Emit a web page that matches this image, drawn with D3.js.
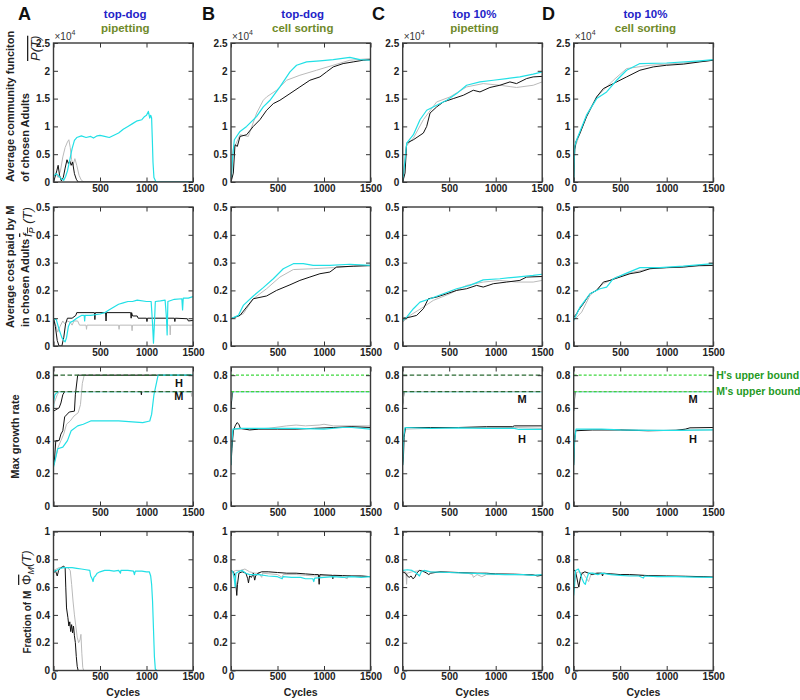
<!DOCTYPE html>
<html><head><meta charset="utf-8">
<script src="https://cdn.jsdelivr.net/npm/d3@7"></script>
<style>body{margin:0;background:#fff}svg{font-family:"Liberation Sans",Arial,sans-serif}</style>
</head><body><svg id="c" width="800" height="700"></svg>
<script>
// ---------------- DATA ----------------
const panelLetters = ["A","B","C","D"];
const selectionTitles = ["top-dog","top-dog","top 10%","top 10%"];
const methodTitles = ["pipetting","cell sorting","pipetting","cell sorting"];
const xTickValues = [0,500,1000,1500];
const xTickLabels = ["0","500","1000","1500"];
const P_ticks = [0,0.5,1,1.5,2,2.5];
const P_tickLabels = ["0","0.5","1","1.5","2","2.5"];
const F_ticks = [0,0.1,0.2,0.3,0.4,0.5];
const F_tickLabels = ["0","0.1","0.2","0.3","0.4","0.5"];
const G_ticks = [0,0.2,0.4,0.6,0.8];
const G_tickLabels = ["0","0.2","0.4","0.6","0.8"];
const Phi_ticks = [0,0.2,0.4,0.6,0.8,1];
const Phi_tickLabels = ["0","0.2","0.4","0.6","0.8","1"];
const upperBounds = [0.8, 0.7];
const upperBoundLabels = ["H's upper bound","M's upper bound"];
// row-3 annotations: [column, label, cycle, value]
const growthAnnotations = [[0,"H",1349,0.73],[0,"M",1349,0.65],[2,"M",1284,0.63],[2,"H",1284,0.386],[3,"M",1284,0.63],[3,"H",1284,0.386]];

// Row 1: average community function P(T), units of 1e4
const P_A_black = [[0,0],[15,0.08],[35,0.2],[50,0.3],[65,0.12],[85,0.02],[105,0.08],[125,0.25],[145,0.4],[160,0.33],[175,0.38],[190,0.3],[205,0.36],[225,0.15],[245,0.05],[265,0],[1500,0]];
const P_A_gray = [[0,0.1],[25,0.15],[50,0.08],[75,0.2],[100,0.45],[125,0.62],[150,0.72],[165,0.76],[180,0.62],[195,0.4],[210,0.3],[230,0.42],[250,0.3],[275,0.12],[300,0.03],[330,0],[1500,0]];
const P_A_cyan = [[0,0.1],[30,0.15],[60,0.1],[90,0.05],[110,0.03],[130,0.1],[150,0.2],[175,0.4],[200,0.6],[225,0.75],[250,0.8],[300,0.83],[350,0.8],[400,0.82],[430,0.79],[470,0.83],[500,0.84],[550,0.82],[600,0.8],[650,0.84],[700,0.88],[750,0.95],[800,1.0],[850,1.05],[900,1.1],[950,1.12],[980,1.18],[1000,1.2],[1020,1.27],[1035,1.15],[1045,1.2],[1055,1.15],[1062,0.8],[1070,0.35],[1080,0.08],[1100,0.01],[1150,0],[1500,0]];
const P_B_black = [[0,0],[25,0.16],[43,0.67],[68,0.64],[97,0.82],[168,0.85],[240,1.0],[311,1.12],[383,1.29],[455,1.41],[526,1.47],[634,1.59],[741,1.71],[848,1.83],[956,1.89],[1027,1.98],[1099,2.07],[1206,2.13],[1314,2.16],[1421,2.19],[1500,2.2]];
const P_B_gray = [[0,0],[25,0.58],[97,0.85],[186,0.82],[276,1.24],[347,1.47],[383,1.53],[490,1.65],[598,1.83],[741,1.92],[920,2.01],[1099,2.1],[1278,2.19],[1500,2.22]];
const P_B_cyan = [[0,0],[18,0.46],[36,0.76],[97,0.91],[168,1.0],[276,1.18],[347,1.35],[419,1.47],[526,1.71],[634,1.98],[705,2.1],[813,2.16],[956,2.18],[1099,2.2],[1278,2.24],[1386,2.2],[1500,2.19]];
const P_C_black = [[0,0],[25,0.16],[43,0.7],[115,0.76],[222,0.88],[258,1.0],[294,1.24],[365,1.35],[437,1.44],[544,1.5],[652,1.56],[759,1.65],[831,1.62],[938,1.7],[1045,1.74],[1153,1.8],[1224,1.77],[1332,1.86],[1403,1.89],[1500,1.9]];
const P_C_gray = [[0,0],[36,0.64],[115,0.79],[222,1.12],[365,1.44],[508,1.53],[687,1.71],[866,1.77],[1045,1.74],[1224,1.7],[1403,1.74],[1500,1.8]];
const P_C_cyan = [[0,0],[25,0.4],[43,0.7],[115,0.85],[186,1.12],[258,1.29],[365,1.38],[473,1.47],[580,1.59],[687,1.74],[831,1.8],[974,1.83],[1117,1.86],[1260,1.89],[1403,1.94],[1500,1.98]];
const P_D_black = [[0,0],[11,0.58],[25,0.73],[68,0.88],[140,1.18],[247,1.53],[319,1.68],[426,1.77],[569,1.89],[712,2.01],[856,2.07],[999,2.1],[1178,2.12],[1357,2.16],[1500,2.19]];
const P_D_gray = [[0,0],[11,0.61],[140,1.21],[247,1.53],[426,1.83],[569,2.04],[820,2.1],[1178,2.14],[1500,2.19]];
const P_D_cyan = [[0,0],[11,0.64],[32,0.76],[140,1.21],[247,1.5],[354,1.62],[462,1.83],[569,2.01],[712,2.13],[999,2.14],[1357,2.18],[1500,2.2]];

// Row 2: average cost fP(T)
const F_A_black = [[0,0.1],[20,0.07],[40,0.02],[60,0],[90,0],[110,0.03],[130,0.08],[150,0.1],[200,0.1],[240,0.11],[250,0.12],[440,0.12],[445,0.095],[450,0.12],[560,0.12],[565,0.09],[570,0.12],[830,0.12],[835,0.1],[840,0.12],[850,0.108],[900,0.108],[910,0.1],[1000,0.1],[1005,0.088],[1010,0.1],[1300,0.1],[1305,0.088],[1310,0.1],[1440,0.098],[1450,0.09],[1500,0.092]];
const F_A_gray = [[0,0.1],[20,0.08],[45,0.05],[70,0.07],[100,0.09],[120,0.08],[150,0.09],[180,0.085],[200,0.075],[220,0.09],[260,0.09],[280,0.075],[350,0.075],[355,0.06],[360,0.075],[700,0.075],[705,0.06],[710,0.075],[840,0.075],[845,0.055],[850,0.075],[1000,0.075],[1250,0.075],[1255,0.04],[1260,0.075],[1500,0.075]];
const F_A_cyan = [[0,0.1],[30,0.095],[60,0.06],[90,0.03],[110,0.02],[125,0.015],[140,0.03],[160,0.07],[180,0.085],[210,0.09],[250,0.1],[300,0.11],[330,0.11],[335,0.09],[340,0.11],[400,0.11],[500,0.115],[550,0.12],[600,0.13],[650,0.14],[700,0.15],[750,0.155],[800,0.16],[850,0.16],[900,0.165],[1000,0.16],[1050,0.16],[1065,0.08],[1075,0.01],[1085,0.08],[1095,0.16],[1150,0.162],[1200,0.165],[1215,0.1],[1222,0.04],[1230,0.16],[1300,0.168],[1380,0.17],[1388,0.13],[1395,0.172],[1450,0.172],[1500,0.178]];
const F_B_black = [[0,0.098],[97,0.11],[168,0.14],[240,0.17],[383,0.18],[490,0.2],[634,0.22],[741,0.236],[848,0.248],[956,0.26],[1063,0.266],[1135,0.284],[1314,0.287],[1500,0.29]];
const F_B_gray = [[0,0.098],[132,0.116],[240,0.17],[383,0.206],[526,0.248],[670,0.275],[884,0.278],[1099,0.282],[1314,0.287],[1500,0.287]];
const F_B_cyan = [[0,0.098],[79,0.11],[132,0.146],[240,0.18],[347,0.21],[455,0.242],[562,0.278],[670,0.296],[777,0.296],[884,0.29],[1063,0.29],[1278,0.294],[1500,0.29]];
const F_C_black = [[0,0.1],[79,0.104],[150,0.11],[222,0.134],[276,0.17],[365,0.176],[473,0.188],[580,0.2],[687,0.206],[795,0.218],[866,0.212],[974,0.224],[1117,0.23],[1260,0.236],[1332,0.248],[1500,0.25]];
const F_C_gray = [[0,0.086],[79,0.11],[222,0.14],[329,0.164],[508,0.188],[687,0.218],[866,0.23],[1045,0.236],[1224,0.23],[1403,0.23],[1500,0.236]];
const F_C_cyan = [[0,0.092],[43,0.104],[115,0.134],[186,0.158],[294,0.17],[437,0.188],[580,0.206],[723,0.218],[866,0.238],[1045,0.242],[1224,0.248],[1403,0.254],[1500,0.258]];
const F_D_black = [[0,0.104],[32,0.116],[50,0.128],[104,0.152],[175,0.188],[247,0.2],[319,0.23],[390,0.236],[498,0.248],[605,0.26],[712,0.266],[820,0.278],[999,0.282],[1178,0.284],[1357,0.29],[1500,0.29]];
const F_D_gray = [[0,0.092],[86,0.122],[175,0.182],[319,0.224],[462,0.248],[641,0.266],[820,0.278],[1178,0.284],[1500,0.29]];
const F_D_cyan = [[0,0.092],[68,0.14],[175,0.188],[283,0.206],[354,0.212],[426,0.242],[569,0.262],[712,0.282],[927,0.282],[1178,0.287],[1500,0.296]];

// Row 3: max growth rate (H and M)
const GH_A_black = [[0,0.25],[10,0.28],[25,0.4],[60,0.4],[80,0.44],[100,0.46],[120,0.545],[170,0.575],[225,0.58],[235,0.68],[260,0.8],[1500,0.8]];
const GH_A_gray = [[0,0.25],[20,0.29],[50,0.36],[80,0.4],[110,0.44],[140,0.5],[180,0.52],[220,0.55],[265,0.57],[290,0.62],[310,0.75],[330,0.8],[1500,0.8]];
const GH_A_cyan = [[0,0.24],[10,0.26],[45,0.35],[100,0.36],[150,0.4],[190,0.46],[260,0.49],[320,0.5],[400,0.52],[700,0.52],[960,0.51],[1035,0.52],[1055,0.56],[1080,0.68],[1110,0.76],[1125,0.8],[1500,0.8]];
const GM_A_black = [[0,0.58],[60,0.6],[80,0.63],[100,0.68],[120,0.7],[940,0.7],[945,0.68],[950,0.7],[1500,0.7]];
const GM_A_gray = [[0,0.62],[20,0.65],[40,0.68],[60,0.7],[1480,0.7],[1485,0.67],[1490,0.7],[1500,0.7]];
const GM_A_cyan = [[0,0.6],[5,0.65],[15,0.68],[30,0.69],[60,0.7],[1500,0.7]];
const GH_B_black = [[0,0.25],[10,0.35],[25,0.46],[45,0.49],[65,0.51],[85,0.5],[100,0.475],[200,0.465],[300,0.47],[500,0.47],[700,0.47],[900,0.475],[1100,0.48],[1300,0.485],[1500,0.48]];
const GH_B_gray = [[0,0.26],[12,0.4],[30,0.47],[200,0.47],[400,0.475],[600,0.49],[700,0.495],[800,0.49],[950,0.495],[1000,0.5],[1100,0.49],[1300,0.49],[1500,0.49]];
const GH_B_cyan = [[0,0.25],[8,0.38],[20,0.47],[100,0.475],[400,0.475],[700,0.475],[1000,0.47],[1200,0.48],[1300,0.48],[1500,0.47]];
const GM_B_black = [[0,0.6],[15,0.7],[1500,0.7]];
const GM_B_gray = [[0,0.64],[12,0.7],[1500,0.7]];
const GM_B_cyan = [[0,0.6],[10,0.68],[25,0.7],[1500,0.7]];
const GH_C_black = [[0,0.25],[8,0.3],[15,0.42],[30,0.48],[300,0.48],[600,0.48],[900,0.485],[1180,0.485],[1200,0.49],[1500,0.49]];
const GH_C_gray = [[0,0.27],[10,0.4],[25,0.47],[300,0.475],[600,0.48],[900,0.478],[1200,0.48],[1500,0.475]];
const GH_C_cyan = [[0,0.25],[12,0.43],[25,0.48],[300,0.475],[600,0.478],[900,0.475],[1200,0.475],[1250,0.468],[1500,0.468]];
const GM_C_black = [[0,0.62],[15,0.7],[1500,0.7]];
const GM_C_gray = [[0,0.6],[12,0.69],[20,0.7],[1500,0.7]];
const GM_C_cyan = [[0,0.63],[10,0.7],[1500,0.7]];
const GH_D_black = [[0,0.25],[8,0.38],[20,0.46],[200,0.465],[500,0.465],[800,0.46],[1100,0.463],[1200,0.47],[1250,0.478],[1500,0.48]];
const GH_D_gray = [[0,0.26],[10,0.42],[25,0.465],[300,0.467],[700,0.465],[1000,0.462],[1300,0.465],[1500,0.465]];
const GH_D_cyan = [[0,0.25],[10,0.4],[25,0.47],[100,0.47],[300,0.47],[500,0.465],[800,0.462],[1100,0.463],[1500,0.465]];
const GM_D_black = [[0,0.58],[15,0.7],[1500,0.7]];
const GM_D_gray = [[0,0.6],[12,0.7],[1500,0.7]];
const GM_D_cyan = [[0,0.62],[10,0.7],[1500,0.7]];

// Row 4: fraction of M
const PhiM_A_black = [[0,0.7],[20,0.72],[40,0.68],[55,0.72],[80,0.74],[110,0.75],[125,0.74],[132,0.6],[140,0.45],[155,0.38],[165,0.32],[175,0.35],[185,0.28],[195,0.33],[205,0.27],[215,0.32],[225,0.25],[235,0.2],[245,0.1],[255,0.03],[265,0],[1500,0]];
const PhiM_A_gray = [[0,0.72],[30,0.73],[60,0.74],[100,0.74],[150,0.74],[180,0.72],[195,0.62],[210,0.5],[225,0.4],[240,0.32],[255,0.24],[270,0.2],[285,0.22],[295,0.26],[305,0.12],[315,0.02],[325,0],[1500,0]];
const PhiM_A_cyan = [[0,0.71],[30,0.72],[60,0.73],[100,0.74],[150,0.74],[200,0.74],[250,0.735],[300,0.73],[350,0.725],[390,0.72],[400,0.68],[415,0.66],[425,0.64],[435,0.67],[450,0.68],[470,0.7],[500,0.71],[550,0.72],[600,0.72],[650,0.715],[700,0.72],[720,0.7],[725,0.72],[800,0.72],[860,0.715],[870,0.69],[880,0.715],[950,0.715],[1000,0.71],[1030,0.71],[1045,0.68],[1055,0.62],[1065,0.5],[1075,0.3],[1085,0.1],[1095,0.01],[1110,0],[1500,0]];
const PhiM_B_black = [[0,0.72],[25,0.71],[45,0.68],[55,0.6],[62,0.54],[70,0.62],[85,0.7],[120,0.71],[160,0.7],[180,0.66],[188,0.63],[200,0.68],[220,0.67],[240,0.7],[255,0.65],[265,0.68],[290,0.7],[330,0.71],[400,0.71],[500,0.705],[600,0.7],[700,0.7],[800,0.695],[900,0.69],[940,0.69],[948,0.62],[955,0.69],[1000,0.688],[1090,0.685],[1095,0.66],[1100,0.685],[1200,0.683],[1300,0.68],[1400,0.68],[1500,0.675]];
const PhiM_B_gray = [[0,0.7],[50,0.72],[100,0.72],[150,0.73],[200,0.71],[260,0.7],[300,0.7],[330,0.67],[340,0.7],[500,0.69],[550,0.67],[560,0.69],[700,0.69],[800,0.685],[900,0.68],[1000,0.682],[1100,0.68],[1200,0.675],[1250,0.66],[1260,0.68],[1400,0.68],[1500,0.675]];
const PhiM_B_cyan = [[0,0.72],[20,0.71],[35,0.66],[45,0.6],[52,0.7],[80,0.71],[120,0.72],[160,0.7],[200,0.69],[300,0.69],[400,0.68],[500,0.675],[550,0.66],[560,0.675],[650,0.67],[750,0.67],[800,0.66],[880,0.66],[890,0.64],[900,0.665],[1000,0.67],[1100,0.675],[1200,0.67],[1300,0.675],[1400,0.67],[1500,0.675]];
const PhiM_C_black = [[0,0.71],[30,0.7],[50,0.68],[70,0.67],[90,0.68],[110,0.66],[130,0.67],[150,0.7],[180,0.72],[230,0.71],[260,0.7],[280,0.69],[300,0.7],[400,0.71],[600,0.705],[800,0.7],[900,0.7],[1000,0.695],[1200,0.693],[1400,0.688],[1450,0.68],[1500,0.685]];
const PhiM_C_gray = [[0,0.7],[20,0.71],[35,0.71],[42,0.62],[48,0.7],[100,0.71],[200,0.72],[300,0.71],[500,0.705],[700,0.7],[750,0.69],[760,0.67],[780,0.68],[800,0.69],[850,0.675],[900,0.69],[1000,0.69],[1200,0.69],[1400,0.685],[1500,0.688]];
const PhiM_C_cyan = [[0,0.72],[50,0.725],[100,0.72],[150,0.7],[180,0.68],[200,0.71],[230,0.72],[300,0.71],[500,0.705],[700,0.7],[900,0.695],[1100,0.69],[1300,0.69],[1400,0.685],[1500,0.69]];
const PhiM_D_black = [[0,0.72],[15,0.72],[30,0.68],[45,0.63],[55,0.6],[70,0.66],[90,0.7],[120,0.71],[160,0.7],[200,0.69],[250,0.7],[300,0.7],[310,0.68],[320,0.7],[400,0.695],[500,0.69],[600,0.69],[800,0.683],[1000,0.68],[1200,0.678],[1400,0.675],[1500,0.672]];
const PhiM_D_gray = [[0,0.7],[10,0.64],[20,0.7],[50,0.71],[100,0.7],[140,0.66],[160,0.64],[180,0.68],[200,0.7],[300,0.7],[500,0.69],[700,0.685],[900,0.68],[1100,0.678],[1300,0.675],[1500,0.672]];
const PhiM_D_cyan = [[0,0.54],[8,0.6],[20,0.72],[50,0.73],[70,0.7],[90,0.66],[110,0.63],[125,0.62],[140,0.66],[160,0.7],[200,0.7],[260,0.69],[300,0.7],[400,0.69],[500,0.685],[600,0.68],[700,0.68],[750,0.665],[760,0.68],[900,0.675],[1100,0.675],[1300,0.672],[1500,0.67]];

// ---------------- LAYOUT / STYLE ----------------
const colX = [53.5, 231, 402.7, 573.7];
const rowY = [43, 207, 367, 531.5];
const W = 139.5, H = 139;
const GRAY = "#bababa", BLACK = "#111111", CYAN = "#22e0e6";
const rows = [
  {domain:[0,2.5], ticks:P_ticks, labels:P_tickLabels, colors:[GRAY,BLACK,CYAN],
   series:[[P_A_gray,P_A_black,P_A_cyan],[P_B_gray,P_B_black,P_B_cyan],[P_C_gray,P_C_black,P_C_cyan],[P_D_gray,P_D_black,P_D_cyan]]},
  {domain:[0,0.5], ticks:F_ticks, labels:F_tickLabels, colors:[GRAY,BLACK,CYAN],
   series:[[F_A_gray,F_A_black,F_A_cyan],[F_B_gray,F_B_black,F_B_cyan],[F_C_gray,F_C_black,F_C_cyan],[F_D_gray,F_D_black,F_D_cyan]]},
  {domain:[0,0.85], ticks:G_ticks, labels:G_tickLabels, colors:[CYAN,BLACK,GRAY,GRAY,BLACK,CYAN],
   series:[
     [GM_A_cyan,GM_A_black,GM_A_gray,GH_A_gray,GH_A_black,GH_A_cyan],
     [GM_B_cyan,GM_B_black,GM_B_gray,GH_B_gray,GH_B_black,GH_B_cyan],
     [GM_C_cyan,GM_C_black,GM_C_gray,GH_C_gray,GH_C_black,GH_C_cyan],
     [GM_D_cyan,GM_D_black,GM_D_gray,GH_D_gray,GH_D_black,GH_D_cyan]]},
  {domain:[0,1], ticks:Phi_ticks, labels:Phi_tickLabels, colors:[GRAY,BLACK,CYAN],
   series:[[PhiM_A_gray,PhiM_A_black,PhiM_A_cyan],[PhiM_B_gray,PhiM_B_black,PhiM_B_cyan],[PhiM_C_gray,PhiM_C_black,PhiM_C_cyan],[PhiM_D_gray,PhiM_D_black,PhiM_D_cyan]]}
];
const showXZero = [[false,false,false,true],[false,false,false,false],[false,false,false,false],[true,true,true,true]];
const boundColors = ["#2b6a33","#3ed83e","#2b6a33","#3ed83e"];
const boundDash = ["4.5,2.5","3,2","4.5,2.5","3,2"];

const svg = d3.select("#c");
const x = d3.scaleLinear().domain([0,1500]).range([0,W]);
const TS = 4.5;
const axisStyle = g => {
  g.select(".domain").remove();
  g.selectAll(".tick line").attr("stroke","#333").attr("stroke-width",1);
  g.selectAll(".tick text").attr("fill","#222").attr("font-size","10px").attr("font-weight","bold")
    .attr("font-family","'Liberation Sans',Arial,sans-serif");
};

rows.forEach((row, ri) => {
  const y = d3.scaleLinear().domain(row.domain).range([H,0]);
  panelLetters.forEach((L, ci) => {
    const g = svg.append("g").attr("transform", `translate(${colX[ci]},${rowY[ri]})`);
    const cid = `clip${ri}${ci}`;
    g.append("clipPath").attr("id", cid).append("rect").attr("width", W).attr("height", H);
    const lg = g.append("g").attr("clip-path", `url(#${cid})`);
    const line = d3.line().x(d => x(d[0])).y(d => y(d[1]));
    row.series[ci].forEach((s, si) => {
      const col = row.colors[si];
      lg.append("path").datum(s).attr("d", line).attr("fill","none")
        .attr("stroke", col).attr("stroke-width", col === CYAN ? 1.2 : 1)
        .attr("stroke-linejoin","round");
    });
    if (ri === 2) {
      upperBounds.forEach(v => {
        lg.append("path").datum([[0,v],[1500,v]]).attr("d", line).attr("fill","none")
          .attr("stroke", boundColors[ci]).attr("stroke-width", 1.3).attr("stroke-dasharray", boundDash[ci]);
      });
      growthAnnotations.filter(a => a[0] === ci).forEach(a => {
        g.append("text").attr("x", x(a[2])).attr("y", y(a[3])).attr("text-anchor","middle")
          .attr("font-size","11px").attr("font-weight","bold").attr("fill","#111").text(a[1]);
      });
      if (ci === 3) {
        upperBounds.forEach((v, k) => {
          g.append("text").attr("x", W + 3).attr("y", y(v)).attr("dy","0.35em")
            .attr("font-size","10.5px").attr("font-weight","bold").attr("fill","#1f9a1f").text(upperBoundLabels[k]);
        });
      }
    }
    // axes
    g.append("g").attr("transform", `translate(0,${H})`)
      .call(d3.axisBottom(x).tickValues(xTickValues).tickSize(-TS).tickPadding(2.5)
        .tickFormat((d,i) => (i === 0 && !showXZero[ri][ci]) ? "" : xTickLabels[i])).call(axisStyle);
    g.append("g").call(d3.axisTop(x).tickValues(xTickValues).tickSize(-TS).tickFormat("")).call(axisStyle);
    g.append("g").call(d3.axisLeft(y).tickValues(row.ticks).tickSize(-TS).tickPadding(3.5)
        .tickFormat((d,i) => row.labels[i])).call(axisStyle);
    g.append("g").attr("transform", `translate(${W},0)`)
      .call(d3.axisRight(y).tickValues(row.ticks).tickSize(-TS).tickFormat("")).call(axisStyle);
    g.append("rect").attr("width", W).attr("height", H).attr("fill","none")
      .attr("stroke","#3a3a3a").attr("stroke-width",1.4);
    if (ri === 0) {
      const t = g.append("text").attr("x", 1).attr("y", -3).attr("font-size","10px").attr("fill","#333");
      t.append("tspan").text("×10");
      t.append("tspan").attr("dy", -5).attr("font-size","7px").text("4");
    }
    if (ri === 3) {
      g.append("text").attr("x", W/2).attr("y", H + 25).attr("text-anchor","middle")
        .attr("font-size","10.5px").attr("font-weight","bold").attr("fill","#222").text("Cycles");
    }
  });
});

// column headings
panelLetters.forEach((L, ci) => {
  const cx = colX[ci] + W/2 + 2;
  svg.append("text").attr("x", cx).attr("y", 18).attr("text-anchor","middle")
    .attr("font-size","11.5px").attr("font-weight","bold").attr("fill","#2323c8").text(selectionTitles[ci]);
  svg.append("text").attr("x", cx).attr("y", 32).attr("text-anchor","middle")
    .attr("font-size","11.5px").attr("font-weight","bold").attr("fill","#6f8a2a").text(methodTitles[ci]);
});
const letterX = [18, 202, 372, 542];
panelLetters.forEach((L, ci) => {
  svg.append("text").attr("x", letterX[ci]).attr("y", 20).attr("font-size","18px")
    .attr("font-weight","bold").attr("fill","#111").text(L);
});

// y-axis titles
function rot(x0, y0) { return svg.append("text").attr("transform", `translate(${x0},${y0}) rotate(-90)`).attr("fill","#222"); }
rot(14, 182).attr("font-size","11px").attr("font-weight","bold").text("Average community funciton");
rot(29, 182).attr("font-size","11px").attr("font-weight","bold").text("of chosen Adults");
rot(40, 61).attr("font-size","13px").attr("font-style","italic").style("text-decoration","overline").text("P(T)");
rot(14, 328).attr("font-size","11px").attr("font-weight","bold").text("Average cost paid by M");
rot(29, 327).attr("font-size","11px").attr("font-weight","bold").text("in chosen Adults");
(() => {
  const t = rot(32, 237).attr("font-size","13px").attr("font-style","italic");
  t.append("tspan").style("text-decoration","overline").text("f");
  t.append("tspan").attr("font-size","9px").attr("dy", 3).style("text-decoration","overline").text("P");
  t.append("tspan").attr("dy", -3).text(" (T)");
})();
rot(19, 436.5).attr("font-size","11px").attr("font-weight","bold").attr("text-anchor","middle").text("Max growth rate");
(() => {
  const t = rot(31, 602).attr("text-anchor","middle");
  t.append("tspan").attr("font-size","10px").attr("font-weight","bold").text("Fraction of M ");
  t.append("tspan").attr("font-size","13px").attr("dx", 3).style("text-decoration","overline").text("Φ");
  t.append("tspan").attr("font-size","9px").attr("font-style","italic").attr("dy", 3).text("M");
  t.append("tspan").attr("font-size","13px").attr("dy", -3).attr("font-style","italic").text("(T)");
})();
</script></body></html>
